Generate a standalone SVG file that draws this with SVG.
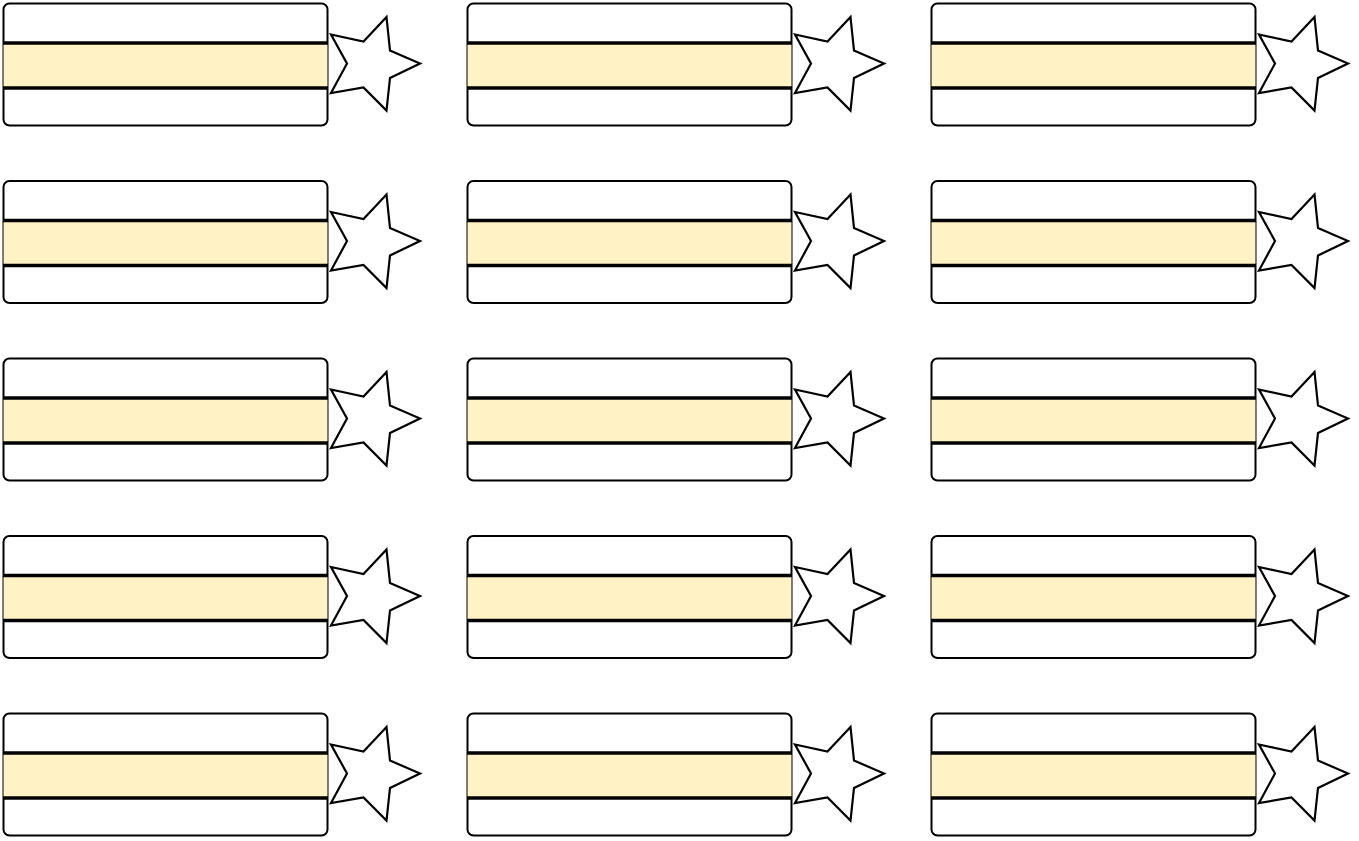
<svg xmlns="http://www.w3.org/2000/svg" xmlns:xlink="http://www.w3.org/1999/xlink" width="1359" height="841" viewBox="0 0 1359 841">
<style>
.card{fill:#ffffff;stroke:#000000;stroke-width:2}
.band{fill:#fff2c4;stroke:none}
.line{stroke:#000000;stroke-width:3.5;fill:none}
.star{fill:#ffffff;stroke:#000000;stroke-width:2.2;stroke-linejoin:miter}
</style>
<defs>
<g id="unit">
<rect class="card" x="3.5" y="3.5" width="324" height="122" rx="6" ry="6"/>
<rect class="band" x="3.5" y="43" width="324" height="45"/>
<line class="line" x1="3" y1="43" x2="328" y2="43"/>
<line class="line" x1="3" y1="88" x2="328" y2="88"/>
<polygon class="star" points="331,34.5 363.5,41.5 386.5,17 390,50.5 420,63.5 390,78 386.5,110.5 363.5,87.5 331,93 347,63.5"/>
</g>
</defs>
<rect width="1359" height="841" fill="#ffffff"/>
<g id="connectors"></g>
<g id="n1-1"><use xlink:href="#unit" href="#unit" x="0" y="0"/></g>
<g id="n1-2"><use xlink:href="#unit" href="#unit" x="464" y="0"/></g>
<g id="n1-3"><use xlink:href="#unit" href="#unit" x="928" y="0"/></g>
<g id="n2-1"><use xlink:href="#unit" href="#unit" x="0" y="177.5"/></g>
<g id="n2-2"><use xlink:href="#unit" href="#unit" x="464" y="177.5"/></g>
<g id="n2-3"><use xlink:href="#unit" href="#unit" x="928" y="177.5"/></g>
<g id="n3-1"><use xlink:href="#unit" href="#unit" x="0" y="355"/></g>
<g id="n3-2"><use xlink:href="#unit" href="#unit" x="464" y="355"/></g>
<g id="n3-3"><use xlink:href="#unit" href="#unit" x="928" y="355"/></g>
<g id="n4-1"><use xlink:href="#unit" href="#unit" x="0" y="532.5"/></g>
<g id="n4-2"><use xlink:href="#unit" href="#unit" x="464" y="532.5"/></g>
<g id="n4-3"><use xlink:href="#unit" href="#unit" x="928" y="532.5"/></g>
<g id="n5-1"><use xlink:href="#unit" href="#unit" x="0" y="710"/></g>
<g id="n5-2"><use xlink:href="#unit" href="#unit" x="464" y="710"/></g>
<g id="n5-3"><use xlink:href="#unit" href="#unit" x="928" y="710"/></g>
</svg>
